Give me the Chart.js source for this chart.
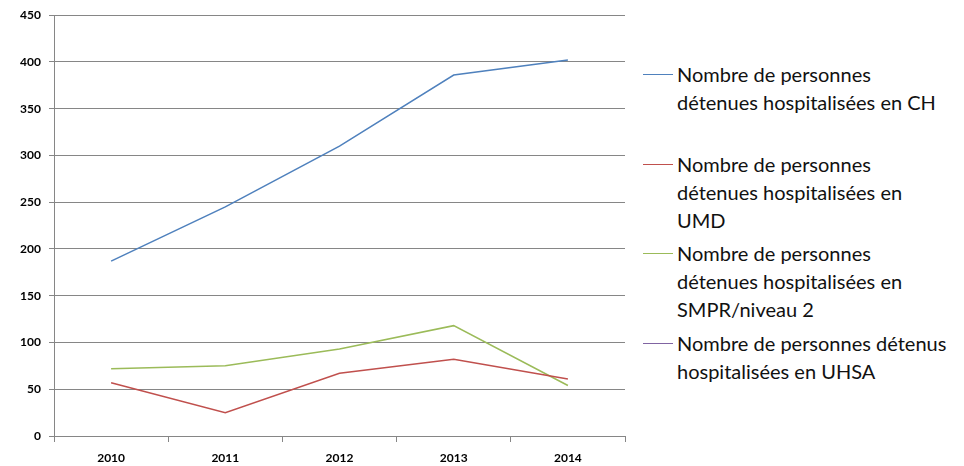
<!DOCTYPE html>
<html>
<head>
<meta charset="utf-8">
<script src="https://cdn.jsdelivr.net/npm/chart.js@4/dist/chart.umd.min.js"></script>
<style>
  body { margin: 0; background: #fff; }
  #wrap { position: relative; width: 964px; height: 466px; }
  #chartBox { position: absolute; left: 0; top: 0; width: 640px; height: 466px; }
  #legend { position: absolute; left: 643px; top: 60px; font-family: Lato, sans-serif; font-size: 20px; color: #111; }
  .item { position: relative; height: 89.7px; }
  .item .mark { position: absolute; left: 0; top: 14px; width: 30px; height: 0; border-top: 1.5px solid; }
  .item .txt { position: absolute; left: 34px; top: 0; line-height: 28px; white-space: nowrap; }
</style>
</head>
<body>
<div id="wrap">
  <div id="chartBox"><canvas id="lineChart"></canvas></div>
  <div id="legend"></div>
</div>
<script>
const years = ['2010', '2011', '2012', '2013', '2014'];
const ch = [187, 245, 310, 386, 402];
const umd = [57, 25, 67, 82, 61];
const smpr = [72, 75, 93, 118, 54];
const uhsa = [null, null, null, null, null];
const yTicks = [0, 50, 100, 150, 200, 250, 300, 350, 400, 450];

const seriesLabels = [
  ['Nombre de personnes', 'détenues hospitalisées en CH'],
  ['Nombre de personnes', 'détenues hospitalisées en', 'UMD'],
  ['Nombre de personnes', 'détenues hospitalisées en', 'SMPR/niveau 2'],
  ['Nombre de personnes détenus', 'hospitalisées en UHSA']
];
const colors = ['#4F81BD', '#C0504D', '#9BBB59', '#8064A2'];
const series = [ch, umd, smpr, uhsa];

const gridColor = '#868686';
const tickFont = { family: 'Lato', size: 12, weight: 'bold' };

const ctx = document.getElementById('lineChart').getContext('2d');

const chart = new Chart(ctx, {
  type: 'line',
  data: {
    labels: years,
    datasets: series.map((s, i) => ({
      label: seriesLabels[i].join(' '),
      data: s,
      borderColor: colors[i],
      backgroundColor: colors[i],
      borderWidth: 1.5,
      pointRadius: 0,
      tension: 0,
      fill: false
    }))
  },
  options: {
    responsive: true,
    maintainAspectRatio: false,
    animation: false,
    layout: { padding: { left: 0, top: 15, right: 15, bottom: 0 } },
    plugins: {
      legend: { display: false },
      tooltip: { enabled: false }
    },
    scales: {
      x: {
        offset: true,
        grid: { offset: true, drawOnChartArea: false, color: gridColor, tickLength: 6 },
        border: { color: gridColor, width: 1 },
        ticks: { font: tickFont, color: '#000', padding: 9, maxRotation: 0 },
        afterFit: s => { s.height = 30; }
      },
      y: {
        min: 0,
        max: 450,
        afterBuildTicks: s => { s.ticks = yTicks.map(v => ({ value: v })); },
        grid: { color: gridColor, tickLength: 5 },
        border: { color: gridColor, width: 1 },
        ticks: { font: tickFont, color: '#000', padding: 8 },
        afterFit: s => { s.width = 54; }
      }
    }
  }
});

// legend on the right, one block per series
const legend = document.getElementById('legend');
seriesLabels.forEach((lines, i) => {
  const item = document.createElement('div');
  item.className = 'item';
  const mark = document.createElement('div');
  mark.className = 'mark';
  mark.style.borderTopColor = colors[i];
  const txt = document.createElement('div');
  txt.className = 'txt';
  txt.innerHTML = lines.join('<br>');
  item.appendChild(mark);
  item.appendChild(txt);
  legend.appendChild(item);
});
</script>
</body>
</html>
